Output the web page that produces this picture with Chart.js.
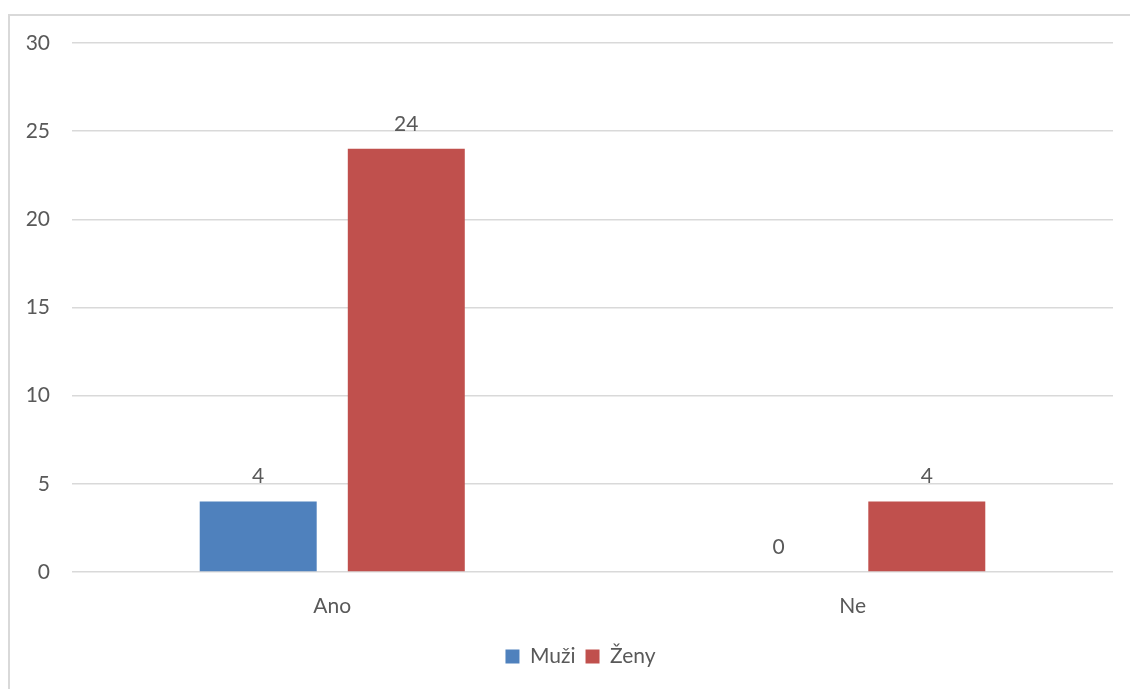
<!DOCTYPE html>
<html>
<head>
<meta charset="utf-8">
<script src="https://cdn.jsdelivr.net/npm/chart.js@4.4.1/dist/chart.umd.min.js"></script>
<style>
  html, body { margin: 0; padding: 0; background: #fff; overflow: hidden; }
  #frame { position: absolute; left: 8px; top: 14px; width: 1140px; height: 700px; border: 2px solid #D9D9D9; box-sizing: border-box; }
  #wrap { position: absolute; left: 0; top: 0; width: 1130px; height: 689px; }
</style>
</head>
<body>
<div id="frame"></div>
<div id="wrap"><canvas id="c" width="1130" height="689"></canvas></div>
<script>
const categories = ["Ano", "Ne"];
const seriesNames = ["Muži", "Ženy"];
const muziValues = [4, 0];
const zenyValues = [24, 4];
const yTicks = [0, 5, 10, 15, 20, 25, 30];

const FONT = "Lato, 'Open Sans', sans-serif";
const TEXT = "#595959";

const valueLabels = {
  id: "valueLabels",
  afterDatasetsDraw(chart) {
    const ctx = chart.ctx;
    ctx.save();
    ctx.font = "21px " + FONT;
    ctx.fillStyle = TEXT;
    ctx.textAlign = "center";
    ctx.textBaseline = "middle";
    chart.data.datasets.forEach((ds, i) => {
      const meta = chart.getDatasetMeta(i);
      meta.data.forEach((bar, j) => {
        ctx.fillText(String(ds.data[j]), bar.x, bar.y - 25);
      });
    });
    ctx.restore();
  }
};

const legendShift = {
  id: "legendShift",
  afterLayout(chart) {
    if (chart.legend) {
      chart.legend.left = 48;
      chart.legend.width = chart.legend.right - chart.legend.left;
    }
  }
};

new Chart(document.getElementById("c"), {
  type: "bar",
  data: {
    labels: categories,
    datasets: [
      { label: seriesNames[0], data: muziValues, backgroundColor: "#4F81BD", categoryPercentage: 0.569, barPercentage: 0.79 },
      { label: seriesNames[1], data: zenyValues, backgroundColor: "#C0504D", categoryPercentage: 0.569, barPercentage: 0.79 }
    ]
  },
  options: {
    responsive: false,
    animation: false,
    layout: { padding: { left: 0, top: 43, right: 17, bottom: 12 } },
    plugins: {
      legend: {
        position: "bottom",
        labels: { font: { size: 21, family: FONT }, color: TEXT, boxWidth: 14, boxHeight: 14, padding: 10 }
      },
      tooltip: { enabled: false }
    },
    scales: {
      x: {
        grid: { display: false, drawTicks: false },
        border: { display: false },
        ticks: { font: { size: 21, family: FONT }, color: TEXT, padding: 22 },
        afterFit(s) { s.height = 64; }
      },
      y: {
        min: 0, max: 30,
        afterBuildTicks(s) { s.ticks = yTicks.map(v => ({ value: v })); },
        grid: { color: "#D9D9D9", lineWidth: 1.5, drawTicks: false },
        border: { display: false },
        ticks: { font: { size: 21, family: FONT }, color: TEXT, padding: 22 },
        afterFit(s) { s.width = 72; }
      }
    }
  },
  plugins: [valueLabels, legendShift]
});
</script>
</body>
</html>
